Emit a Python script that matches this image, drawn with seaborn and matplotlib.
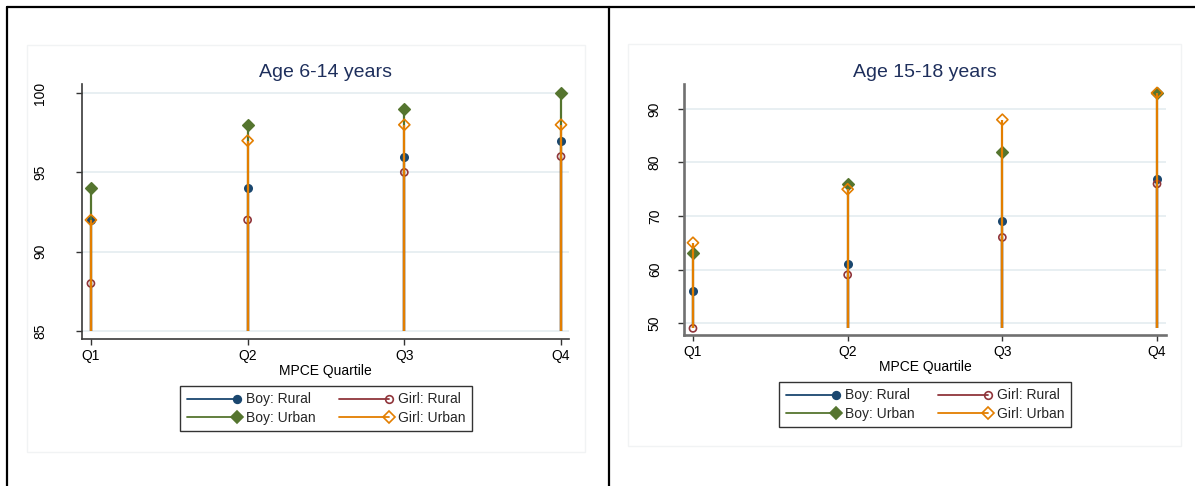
import numpy as np
import pandas as pd
import seaborn as sns
import matplotlib
matplotlib.use("Agg")
import matplotlib.pyplot as plt
from matplotlib.lines import Line2D
from matplotlib.patches import Rectangle
from matplotlib.legend_handler import HandlerLine2D

# ---- data -------------------------------------------------------------
quartiles = ["Q1", "Q2", "Q3", "Q4"]

young_boy_rural = [92, 94, 96, 97]
young_girl_rural = [88, 92, 95, 96]
young_boy_urban = [94, 98, 99, 100]
young_girl_urban = [92, 97, 98, 98]

older_boy_rural = [56, 61, 69, 77]
older_girl_rural = [49, 59, 66, 76]
older_boy_urban = [63, 76, 82, 93]
older_girl_urban = [65, 75, 88, 93]

series_names = ["Boy: Rural", "Girl: Rural", "Boy: Urban", "Girl: Urban"]
panel_titles = ["Age 6-14 years", "Age 15-18 years"]
x_label = "MPCE Quartile"

# ---- style ------------------------------------------------------------
sns.set_theme(style="white")
plt.rcParams["font.family"] = ["Liberation Sans", "DejaVu Sans"]

colors = ["#1a476f", "#90353b", "#55752f", "#e37e00"]
markers = ["o", "o", "D", "D"]
hollow = [False, True, False, True]
msizes = [28, 26, 34, 32]
title_color = "#1e2f5c"
grid_color = "#e6eef1"


class EndMarkerHandler(HandlerLine2D):
    """Legend key with the marker sitting at the right end of the line."""

    def create_artists(self, legend, orig_handle, xdescent, ydescent,
                       width, height, fontsize, trans):
        artists = super().create_artists(legend, orig_handle, xdescent, ydescent,
                                         width, height, fontsize, trans)
        for a in artists:
            if isinstance(a, Line2D) and a.get_marker() not in (None, "None", ""):
                n = len(a.get_xdata())
                a.set_markevery([n - 1])
        return artists


fig = plt.figure(figsize=(11.95, 4.86), dpi=100)
fig.patch.set_facecolor("white")

# outer frame lines
fig.add_artist(Line2D([7 / 1195, 1], [1 - 7 / 486] * 2, color="black", lw=1.6,
                      transform=fig.transFigure))
fig.add_artist(Line2D([7 / 1195] * 2, [0, 1 - 7 / 486], color="black", lw=1.6,
                      transform=fig.transFigure))
fig.add_artist(Line2D([609 / 1195] * 2, [0, 1 - 7 / 486], color="black", lw=1.6,
                      transform=fig.transFigure))

# faint plot-region outlines
for (x0, y0, x1, y1) in [(27, 45, 585, 452), (628, 44, 1181, 446)]:
    fig.add_artist(Rectangle((x0 / 1195, 1 - y1 / 486), (x1 - x0) / 1195, (y1 - y0) / 486,
                             transform=fig.transFigure, fill=False,
                             edgecolor="#f1f3f4", lw=1.0))

panels = [
    dict(rect=[82 / 1195, 1 - 339 / 486, 487 / 1195, 255 / 486],
         data=[young_boy_rural, young_girl_rural, young_boy_urban, young_girl_urban],
         base=85, ylim=(84.5, 100.57), yticks=[85, 90, 95, 100],
         xlim=(-0.057, 3.051), ypad=21, spine_color="#3a3a3a", spine_lw=1.2,
         legend_center=(326 / 1195, 1 - 408.5 / 486)),
    dict(rect=[684 / 1195, 1 - 335 / 486, 482 / 1195, 251 / 486],
         data=[older_boy_rural, older_girl_rural, older_boy_urban, older_girl_urban],
         base=49, ylim=(47.76, 94.67), yticks=[50, 60, 70, 80, 90],
         xlim=(-0.058, 3.058), ypad=12, spine_color="#707070", spine_lw=1.9,
         legend_center=(925 / 1195, 1 - 404.5 / 486)),
]

positions = np.arange(len(quartiles))

for title, p in zip(panel_titles, panels):
    ax = fig.add_axes(p["rect"])
    ax.set_facecolor("white")

    for i, (name, vals) in enumerate(zip(series_names, p["data"])):
        c = colors[i]
        ax.vlines(positions, p["base"], vals, color=c, lw=1.6, zorder=3 + 2 * i)
        df = pd.DataFrame({"quartile": quartiles, "value": vals})
        sns.scatterplot(data=df, x="quartile", y="value", ax=ax, marker=markers[i],
                        s=msizes[i], color=c, edgecolor=c, linewidth=1.2,
                        zorder=4 + 2 * i, legend=False)
        coll = ax.collections[-1]
        if hollow[i]:
            coll.set_facecolor("none")
        coll.set_edgecolor(c)

    ax.set_xlim(*p["xlim"])
    ax.set_ylim(*p["ylim"])
    ax.set_xticks(positions)
    ax.set_xticklabels(quartiles)
    ax.set_yticks(p["yticks"])
    ax.set_yticklabels([str(t) for t in p["yticks"]], rotation=90, va="center")
    ax.yaxis.grid(True, color=grid_color, lw=1.3)
    ax.xaxis.grid(False)
    ax.set_axisbelow(True)

    for side in ["top", "right"]:
        ax.spines[side].set_visible(False)
    for side in ["left", "bottom"]:
        ax.spines[side].set_color(p["spine_color"])
        ax.spines[side].set_linewidth(p["spine_lw"])

    ax.tick_params(axis="both", which="both", direction="out", length=4,
                   width=1.0, color="#333333", labelsize=10, labelcolor="black")
    ax.tick_params(axis="x", bottom=True, pad=3)
    ax.tick_params(axis="y", left=True, pad=p["ypad"])

    ax.set_xlabel(x_label, fontsize=10, color="black", labelpad=1)
    ax.set_ylabel("")
    ax.set_title(title, fontsize=14, color=title_color, pad=5)

    handles = []
    for i in range(4):
        handles.append(Line2D([], [], color=colors[i], lw=1.3, marker=markers[i],
                              markersize=5.5 if markers[i] == "o" else 6,
                              markerfacecolor="none" if hollow[i] else colors[i],
                              markeredgecolor=colors[i], markeredgewidth=1.2))
    order = [0, 2, 1, 3]
    leg = fig.legend([handles[k] for k in order], [series_names[k] for k in order],
                     ncol=2, loc="center", bbox_to_anchor=p["legend_center"],
                     frameon=True, fancybox=False, edgecolor="black", fontsize=10,
                     handlelength=3.6, handletextpad=0.65, columnspacing=1.7,
                     labelspacing=0.3, borderpad=0.45, numpoints=1,
                     handler_map={Line2D: EndMarkerHandler()})
    leg.get_frame().set_linewidth(1.0)

fig.savefig("out.png", dpi=100, facecolor="white")
